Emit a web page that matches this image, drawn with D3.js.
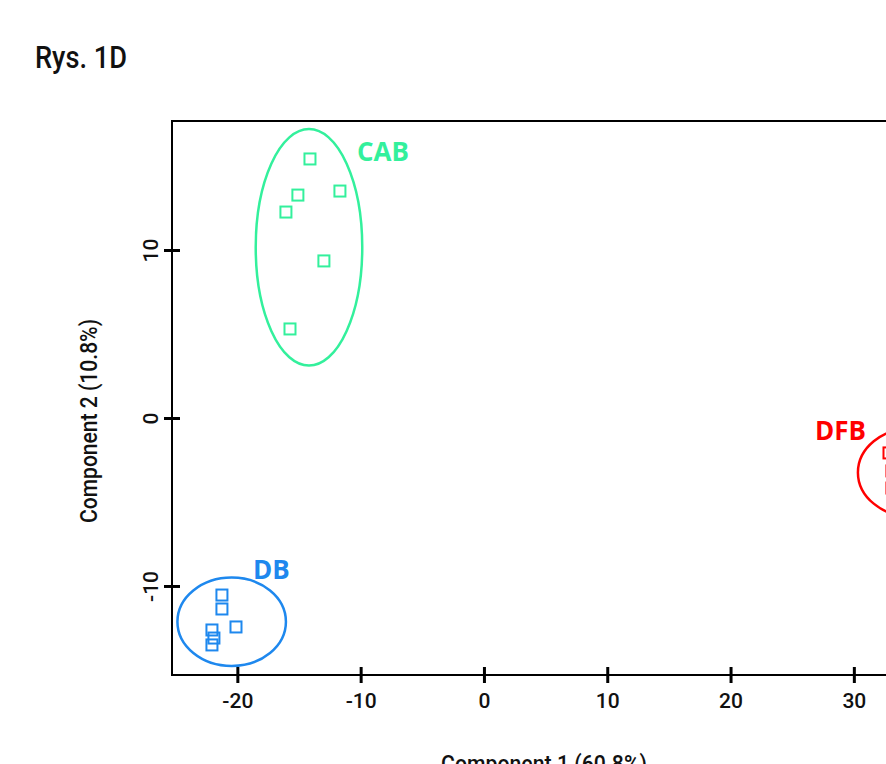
<!DOCTYPE html>
<html>
<head>
<meta charset="utf-8">
<script src="https://cdn.jsdelivr.net/npm/d3@7"></script>
<style>
  html, body { margin: 0; padding: 0; background: #fff; overflow: hidden; }
  svg { display: block; }
  .cond { font-family: "Roboto", "DejaVu Sans", sans-serif; font-weight: 500; }
  .bold { font-family: "Open Sans", "Noto Sans", sans-serif; font-weight: 700; }
</style>
</head>
<body>
<svg id="chart" width="886" height="764"></svg>
<script>
// ---- data ----
const groups = ["CAB", "DB", "DFB"];
const groupColors = ["#33F09C", "#1E88EE", "#FF0000"];
const cabX = [-14.11, -15.09, -16.06, -11.68, -12.98, -15.73];
const cabY = [15.42, 13.27, 12.26, 13.51, 9.35, 5.30];
const dbX = [-21.25, -21.25, -20.11, -22.06, -21.90, -22.06];
const dbY = [-10.54, -11.37, -12.44, -12.62, -13.10, -13.51];
const dfbX = [32.85, 33.09, 33.09, 35.0, 35.8, 36.4];
const dfbY = [-2.08, -3.15, -4.17, -2.5, -3.7, -4.3];
// ellipse centre and half-axes (data units)
const ellCx = [-14.19, -20.46, 34.71];
const ellCy = [10.16, -12.13, -3.24];
const ellRx = [4.32, 4.40, 4.38];
const ellRy = [7.04, 2.63, 2.63];
const xTicks = [-20, -10, 0, 10, 20, 30];
const yTicks = [-10, 0, 10];
const title = "Rys. 1D";
const xTitle = "Component 1 (60.8%)";
const yTitle = "Component 2 (10.8%)";

const svg = d3.select("#chart");
const L = 172, T = 121, B = 675;
const x = d3.scaleLinear().domain([-25.3, 40.5]).range([L, L + 65.8 * 12.33]);
const y = d3.scaleLinear().domain([-15.3, 17.68]).range([B, T]);
const R = x.range()[1];
const fmt = d => String(d);

// title
svg.append("text").attr("class", "cond").attr("x", 35).attr("y", 68)
  .attr("font-size", 32).attr("fill", "#111")
  .attr("textLength", 92).attr("lengthAdjust", "spacingAndGlyphs").text(title);

// box
svg.append("rect").attr("x", L).attr("y", T).attr("width", R - L).attr("height", B - T)
  .attr("fill", "none").attr("stroke", "#000").attr("stroke-width", 2);

// x axis
const xAxis = d3.axisBottom(x).tickValues(xTicks).tickFormat(fmt).tickSizeInner(8).tickSizeOuter(0);
const gx = svg.append("g").attr("transform", `translate(0,${B})`).call(xAxis);
gx.select(".domain").remove();
gx.selectAll(".tick line").attr("y1", -8).attr("y2", 8).attr("stroke", "#000").attr("stroke-width", 3);
gx.selectAll(".tick text").attr("class", "cond").attr("font-size", 21).attr("fill", "#111")
  .attr("y", 33).attr("dy", 0);

// y axis
const yAxis = d3.axisLeft(y).tickValues(yTicks).tickFormat(fmt).tickSizeInner(8).tickSizeOuter(0);
const gy = svg.append("g").attr("transform", `translate(${L},0)`).call(yAxis);
gy.select(".domain").remove();
gy.selectAll(".tick line").attr("x1", -8).attr("x2", 8).attr("stroke", "#000").attr("stroke-width", 3);
gy.selectAll(".tick text").attr("class", "cond").attr("font-size", 21).attr("fill", "#111")
  .attr("x", null).attr("dy", 0).attr("text-anchor", "middle")
  .attr("transform", "translate(-14,0) rotate(-90)");

// axis titles
svg.append("text").attr("class", "cond").attr("font-size", 23).attr("fill", "#111")
  .attr("text-anchor", "middle").attr("textLength", 204).attr("lengthAdjust", "spacingAndGlyphs")
  .attr("transform", "translate(97,421) rotate(-90)").text(yTitle);
svg.append("text").attr("class", "cond").attr("font-size", 23).attr("fill", "#111")
  .attr("text-anchor", "middle").attr("textLength", 206).attr("lengthAdjust", "spacingAndGlyphs")
  .attr("x", 544).attr("y", 772).text(xTitle);

// clusters
const pts = [[cabX, cabY], [dbX, dbY], [dfbX, dfbY]];
const labelPos = [[-10.3, 15.3], [-18.73, -9.58], [26.85, -1.31]];
const kx = x(1) - x(0), ky = y(0) - y(1);
groups.forEach((g, i) => {
  const c = groupColors[i];
  svg.append("ellipse")
    .attr("cx", x(ellCx[i])).attr("cy", y(ellCy[i]))
    .attr("rx", ellRx[i] * kx).attr("ry", ellRy[i] * ky)
    .attr("fill", "none").attr("stroke", c).attr("stroke-width", 2.5);
  const data = pts[i][0].map((v, j) => [v, pts[i][1][j]]);
  svg.append("g").selectAll("rect").data(data).join("rect")
    .attr("x", d => x(d[0]) - 5.5).attr("y", d => y(d[1]) - 5.5)
    .attr("width", 11).attr("height", 11)
    .attr("fill", "none").attr("stroke", c).attr("stroke-width", 2);
  svg.append("text").attr("class", "bold").attr("font-size", 26).attr("fill", c)
    .attr("x", x(labelPos[i][0])).attr("y", y(labelPos[i][1])).text(g);
});
</script>
</body>
</html>
